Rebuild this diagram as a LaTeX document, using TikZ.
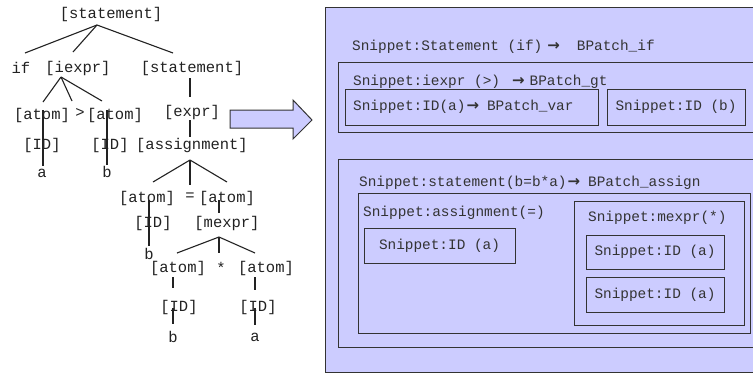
\documentclass[tikz,border=0pt]{standalone}
\usepackage{fontspec}
\setmonofont{Liberation Mono}
\newfontfamily\arrowfont{DejaVu Sans}
\definecolor{panel}{HTML}{CCCCFF}
\definecolor{ink}{HTML}{222222}
\definecolor{edge}{HTML}{333333}
\newcommand{\snarrow}{{\arrowfont\bfseries\fontsize{15}{17}\selectfont →}}
\begin{document}
\begin{tikzpicture}[x=1pt,y=-1pt,
  tree/.style={font=\fontsize{15.5}{18}\selectfont\ttfamily, inner sep=0pt, text=ink},
  snip/.style={font=\fontsize{14.4}{17}\selectfont\ttfamily, inner sep=0pt, text=edge, anchor=west},
  br/.style={draw=ink, line width=1.1pt},
  box/.style={draw=edge, line width=1pt},
]
\useasboundingbox (0,0) rectangle (753,376);
\clip (0,0) rectangle (753,376);
\fill[white] (0,0) rectangle (753,376);

% ---------- parse tree ----------
\node[tree] (st0) at (111,14) {[statement]};
\node[tree] (if) at (21,68) {if};
\node[tree] (iexpr) at (78,68) {[iexpr]};
\node[tree] (st1) at (192,68) {[statement]};
\node[tree] (atomA) at (42,115) {[atom]};
\node[tree] (gt) at (80,113) {>};
\node[tree] (atomB) at (115,115) {[atom]};
\node[tree] (idA) at (42,145) {[ID]};
\node[tree] (idB) at (110,145) {[ID]};
\node[tree] (a1) at (42,173) {a};
\node[tree] (b1) at (107,172) {b};
\node[tree] (expr) at (192,112) {[expr]};
\node[tree] (assign) at (192,145) {[assignment]};
\node[tree] (atomC) at (147,198) {[atom]};
\node[tree] (eq) at (190,197) {=};
\node[tree] (atomD) at (227,198) {[atom]};
\node[tree] (idC) at (153,223) {[ID]};
\node[tree] (mexpr) at (227,223) {[mexpr]};
\node[tree] (b2) at (149,254) {b};
\node[tree] (atomE) at (178,268) {[atom]};
\node[tree] (star) at (221,268) {*};
\node[tree] (atomF) at (266,268) {[atom]};
\node[tree] (idE) at (179,307) {[ID]};
\node[tree] (idF) at (258,307) {[ID]};
\node[tree] (b3) at (173,337) {b};
\node[tree] (a3) at (255,337) {a};

% tree edges
\draw[br] ([shift={(-14,11)}]st0.center) -- ([shift={(4,-15)}]if.center);
\draw[br] ([shift={(-14,11)}]st0.center) -- ([shift={(-5,-16)}]iexpr.center);
\draw[br] ([shift={(-14,11)}]st0.center) -- ([shift={(-19,-15)}]st1.center);
\draw[br] ([shift={(-17,9)}]iexpr.center) -- ([shift={(1,-13)}]atomA.center);
\draw[br] ([shift={(-17,9)}]iexpr.center) -- ([shift={(-8,-12)}]gt.center);
\draw[br] ([shift={(-17,9)}]iexpr.center) -- ([shift={(-13,-14)}]atomB.center);
\draw[br] ([shift={(1,-5)}]atomA.center) -- ([shift={(1,0)}]idA.center) -- ([shift={(1,-7)}]a1.center);
\draw[br] ([shift={(-8,-5)}]atomB.center) -- ([shift={(-3,0)}]idB.center) -- ([shift={(0,-7)}]b1.center);
\draw[br] ([shift={(-2,10)}]st1.center) -- ([shift={(-2,-15)}]expr.center);
\draw[br] ([shift={(-2,8)}]expr.center) -- ([shift={(-2,-8)}]assign.center);
\draw[br] ([shift={(-2,15)}]assign.center) -- ([shift={(6,-16)}]atomC.center);
\draw[br] ([shift={(-2,15)}]assign.center) -- ([shift={(0,-12)}]eq.center);
\draw[br] ([shift={(-2,15)}]assign.center) -- ([shift={(0,-16)}]atomD.center);
\draw[br] ([shift={(2,2)}]atomC.center) -- ([shift={(-4,0)}]idC.center) -- ([shift={(0,-8)}]b2.center);
\draw[br] ([shift={(-8,2)}]atomD.center) -- ([shift={(-8,-10)}]mexpr.center);
\draw[br] ([shift={(-8,14)}]mexpr.center) -- ([shift={(-1,-15)}]atomE.center);
\draw[br] ([shift={(-8,14)}]mexpr.center) -- ([shift={(-2,-15)}]star.center);
\draw[br] ([shift={(-8,14)}]mexpr.center) -- ([shift={(-11,-15)}]atomF.center);
\draw[br] ([shift={(-5,9)}]atomE.center) -- ([shift={(-6,-19)}]idE.center);
\draw[br] ([shift={(-6,1)}]idE.center) -- ([shift={(0,-13)}]b3.center);
\draw[br] ([shift={(-11,9)}]atomF.center) -- ([shift={(-3,-17)}]idF.center);
\draw[br] ([shift={(-3,1)}]idF.center) -- ([shift={(0,-12)}]a3.center);

% ---------- block arrow ----------
\draw[box, fill=panel] (230,110) -- (293,110) -- (293,100) -- (312,120) -- (293,139) -- (293,128) -- (230,128) -- cycle;

% ---------- snippet panel ----------
\draw[box, fill=panel] (325,7) rectangle (780,372);
\node[snip] (t1) at (352,47) {Snippet:Statement (if)\hspace{5pt}\snarrow\hspace{17pt}BPatch\_if};

\draw[box] (338,62) rectangle (780,132);
\node[snip] (t2) at (353,82) {Snippet:iexpr (>)\hspace{12pt}\snarrow\hspace{5pt}BPatch\_gt};
\draw[box] (345,89) rectangle (598,125);
\node[snip] (t3) at (353,107) {Snippet:ID(a)\hspace{1pt}\snarrow\hspace{8pt}BPatch\_var};
\draw[box] (607,89) rectangle (745,125);
\node[snip, anchor=center] (t4) at (676,107) {Snippet:ID (b)};

\draw[box] (338,159) rectangle (780,347);
\node[snip] (t5) at (359,183) {Snippet:statement(b=b*a)\hspace{1pt}\snarrow\hspace{8pt}BPatch\_assign};
\draw[box] (358,193) rectangle (750,333);
\node[snip] (t6) at (363,213) {Snippet:assignment(=)};
\draw[box] (364,228) rectangle (515,263);
\node[snip, anchor=center] (t7) at (439.5,246) {Snippet:ID (a)};
\draw[box] (574,201) rectangle (744,325);
\node[snip] (t8) at (588,218) {Snippet:mexpr(*)};
\draw[box] (586,235) rectangle (724,269);
\node[snip, anchor=center] (t9) at (655,252) {Snippet:ID (a)};
\draw[box] (586,277) rectangle (724,312);
\node[snip, anchor=center] (t10) at (655,294.5) {Snippet:ID (a)};
\end{tikzpicture}
\end{document}
